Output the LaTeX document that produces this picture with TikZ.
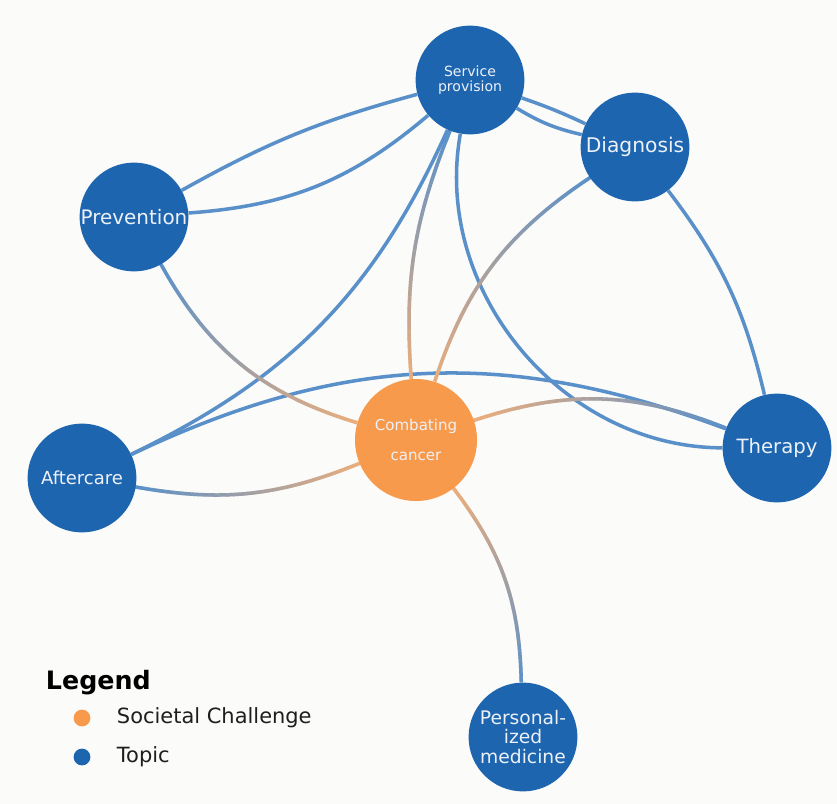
\documentclass[tikz,border=0pt]{standalone}
\usepackage{fontspec}
\setmainfont{DejaVu Sans}
\usetikzlibrary{decorations.markings,backgrounds}

\definecolor{topicblue}{RGB}{30,101,176}
\definecolor{challengeorange}{RGB}{248,154,76}
\definecolor{edgeblue}{RGB}{90,144,201}
\definecolor{edgeorange}{RGB}{236,174,124}
\definecolor{labeltext}{RGB}{236,241,248}
\definecolor{paper}{RGB}{251,251,249}
\definecolor{legendtext}{RGB}{30,30,30}

\tikzset{
  topic/.style={circle, fill=topicblue, inner sep=0pt, minimum size=2.72cm,
    text=labeltext, align=center},
  challenge/.style={circle, fill=challengeorange, inner sep=0pt, minimum size=3.05cm,
    text=labeltext, align=center},
  edge/.style={draw=edgeblue, line width=2.5pt},
  % colour runs from #1 at the start of the path to #2 at its end
  mixedge/.style 2 args={decorate, decoration={markings,
      mark=between positions 0 and 1 step 0.8pt with {
        \pgfmathtruncatemacro\mixpct{min(100,max(0,\pgfkeysvalueof{/pgf/decoration/mark info/distance from start}/\pgfdecoratedpathlength*100))}
        \draw[#2!\mixpct!#1, line width=2.5pt] (-0.55pt,0) -- (0.55pt,0);
      }}},
  keydot/.style={circle, inner sep=0pt, minimum size=0.42cm}
}

\begin{document}
\begin{tikzpicture}[x=0.025cm, y=-0.025cm]
  \useasboundingbox (0,0) rectangle (837,804);

  % Knoten
  \node[topic, font=\fontsize{10}{11}\selectfont] (sp) at (470,80) {Service\\provision};
  \node[topic, font=\fontsize{14.4}{16}\selectfont] (diag) at (635,147) {Diagnosis};
  \node[topic, font=\fontsize{14.2}{16}\selectfont] (prev) at (134,217) {Prevention};
  \node[challenge, font=\fontsize{10.7}{21.3}\selectfont] (cc) at (416,440) {Combating\\cancer};
  \node[topic, font=\fontsize{12.8}{15}\selectfont] (after) at (82,478) {Aftercare};
  \node[topic, font=\fontsize{14}{16}\selectfont] (ther) at (777,448) {Therapy};
  \node[topic, font=\fontsize{13.3}{13.6}\selectfont] (pm) at (523,737) {Personal-\\ized\\medicine};

  % Kanten hinter den Knoten
  \begin{scope}[on background layer]
    \fill[paper] (0,0) rectangle (837,804);

    \draw[edge] (prev) to[bend left=7] (sp);
    \draw[edge] (prev) to[bend right=18] (sp);
    \draw[edge] (sp) to[bend left=3] (diag);
    \draw[edge] (sp) to[bend right=9] (diag);
    \draw[edge] (sp) to[bend left=20] (after);
    \draw[edge] (sp) to[bend right=50] (ther);
    \draw[edge] (diag) to[bend left=12] (ther);
    \draw[edge] (after) to[bend left=23] (ther);

    \path[mixedge={edgeblue}{edgeorange}] (prev) to[bend right=22] (cc);
    \path[mixedge={edgeblue}{edgeorange}] (sp) to[bend right=13] (cc);
    \path[mixedge={edgeblue}{edgeorange}] (diag) to[bend right=19] (cc);
    \path[mixedge={edgeblue}{edgeorange}] (after) to[bend right=16] (cc);
    \path[mixedge={edgeorange}{edgeblue}] (cc) to[bend left=20] (ther);
    \path[mixedge={edgeorange}{edgeblue}] (cc) to[bend left=18] (pm);
  \end{scope}

  % Legende
  \node[anchor=west, font=\fontsize{18}{20}\selectfont\bfseries, text=black] (legend) at (41,683) {Legend};
  \node[keydot, fill=challengeorange] (keycc) at (82,718) {};
  \node[keydot, fill=topicblue] (keytopic) at (82,757) {};
  \node[anchor=west, font=\fontsize{14.9}{17}\selectfont, text=legendtext] (keycctext) at (112,718) {Societal Challenge};
  \node[anchor=west, font=\fontsize{14.9}{17}\selectfont, text=legendtext] (keytopictext) at (112,757) {Topic};
\end{tikzpicture}
\end{document}
